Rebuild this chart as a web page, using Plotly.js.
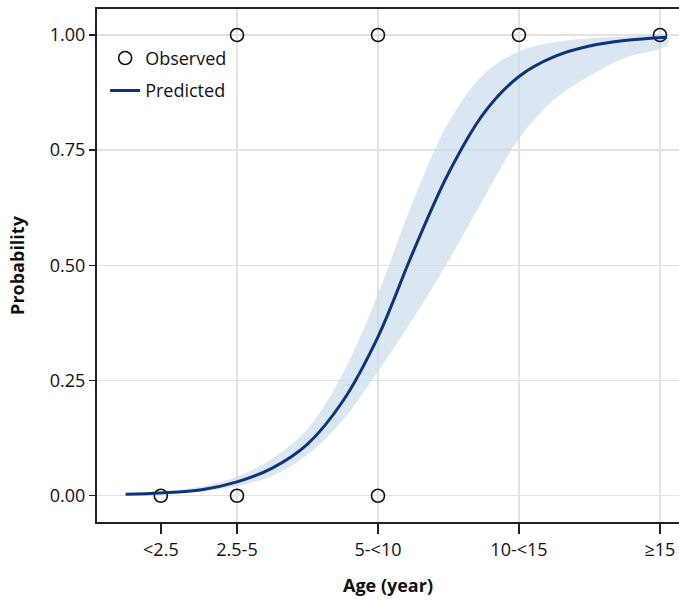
<!DOCTYPE html>
<html>
<head>
<meta charset="utf-8">
<script src="https://cdn.plot.ly/plotly-3.0.1.min.js"></script>
<style>html,body{margin:0;padding:0;background:#fff;}#chart{width:679px;height:602px;}</style>
</head>
<body>
<div id="chart"></div>
<script>
// Category labels and their positions on the age axis
const ageLabels = ["<2.5", "2.5-5", "5-<10", "10-<15", "\u226515"];
const agePos = [0.46, 1, 2, 3, 4];
const gridPos = [1, 2, 3, 4];

// Observed outcomes (0/1)
const obsX = [0.46, 1, 1, 2, 2, 3, 4];
const obsY = [0, 1, 0, 1, 0, 1, 1];

// Predicted curve and confidence band
const curveX = [0.21, 0.46, 0.75, 1.0, 1.25, 1.5, 1.75, 2.0, 2.25, 2.5, 2.75, 3.0, 3.25, 3.5, 3.75, 4.05];
const predicted = [0.003, 0.006, 0.013, 0.030, 0.060, 0.112, 0.205, 0.345, 0.530, 0.700, 0.830, 0.910, 0.953, 0.976, 0.988, 0.995];
const upperCI = [0.0045, 0.009, 0.020, 0.041, 0.081, 0.145, 0.265, 0.438, 0.640, 0.810, 0.915, 0.964, 0.984, 0.993, 0.996, 0.998];
const lowerCI = [0.002, 0.0045, 0.010, 0.021, 0.043, 0.089, 0.164, 0.270, 0.385, 0.510, 0.645, 0.775, 0.860, 0.911, 0.950, 0.978];

const FONT = "Open Sans, Noto Sans, sans-serif";

const traces = [
  {
    x: curveX.concat(curveX.slice().reverse()),
    y: upperCI.concat(lowerCI.slice().reverse()),
    type: "scatter", mode: "lines", fill: "toself",
    fillcolor: "rgba(200,216,236,0.65)",
    line: {width: 0, shape: "spline", smoothing: 1},
    hoverinfo: "skip", showlegend: false
  },
  {
    x: obsX, y: obsY, type: "scatter", mode: "markers", name: "Observed",
    legendgroup: "a",
    marker: {symbol: "circle-open", size: 13, color: "#111", line: {width: 1.6, color: "#111"}}
  },
  {
    x: curveX, y: predicted, type: "scatter", mode: "lines", name: "Predicted",
    legendgroup: "b",
    line: {color: "#0b3479", width: 3, shape: "spline", smoothing: 1}
  }
];

const layout = {
  width: 679, height: 602,
  margin: {l: 97, r: 0, t: 9, b: 80},
  paper_bgcolor: "#fff", plot_bgcolor: "#fff",
  font: {family: FONT, size: 18, color: "#111"},
  showlegend: true,
  legend: {x: 0.014, y: 0.94, xanchor: "left", yanchor: "top", bgcolor: "rgba(0,0,0,0)",
           traceorder: "grouped", tracegroupgap: 6,
           font: {family: FONT, size: 18, color: "#111"}},
  xaxis: {
    range: [0.007, 4.135],
    tickmode: "array", tickvals: agePos, ticktext: ageLabels,
    showgrid: false, zeroline: false,
    showline: true, linecolor: "#222", linewidth: 2, mirror: true,
    ticks: "outside", ticklen: 10, tickwidth: 1.5, tickcolor: "#222",
    tickfont: {family: FONT, size: 18, color: "#111"},
    minor: {tickmode: "array", tickvals: gridPos, showgrid: true, gridcolor: "#e2e2e2", gridwidth: 1.5, ticks: ""},
    title: {text: "Age (year)", font: {family: FONT, size: 18, color: "#111", weight: "bold"}, standoff: 20}
  },
  yaxis: {
    range: [-0.057, 1.0564],
    tickmode: "array", tickvals: [0, 0.25, 0.5, 0.75, 1], ticktext: ["0.00", "0.25", "0.50", "0.75", "1.00"],
    showgrid: true, gridcolor: "#e2e2e2", gridwidth: 1.5, zeroline: false,
    showline: true, linecolor: "#222", linewidth: 2,
    ticks: "outside", ticklen: 6, tickwidth: 1.5, tickcolor: "#222",
    tickfont: {family: FONT, size: 18, color: "#111"},
    title: {text: "Probability", font: {family: FONT, size: 18, color: "#111", weight: "bold"}, standoff: 20}
  }
};

Plotly.newPlot("chart", traces, layout, {displayModeBar: false, staticPlot: true});
</script>
</body>
</html>
